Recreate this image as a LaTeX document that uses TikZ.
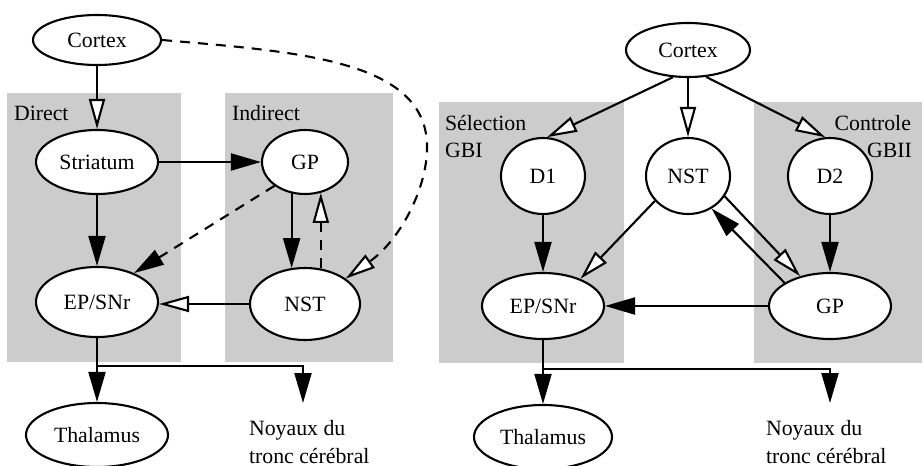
\documentclass[tikz,border=0pt]{standalone}
\usepackage{fontspec}
\setmainfont{Liberation Serif}
\usetikzlibrary{arrows.meta,shapes.geometric}

\begin{document}
\begin{tikzpicture}[x=0.5pt,y=-0.5pt,
  line width=1.05pt,
  every node/.style={font=\fontsize{10.9}{14}\selectfont},
  region/.style={fill=black!20,draw=none},
  nucleus/.style={ellipse,draw,fill=white,inner sep=0pt},
  tag/.style={inner sep=0pt},
  inh/.style={-{Triangle[length=15pt,width=8.5pt]}},
  exc/.style={-{Triangle[length=15pt,width=8pt,fill=white]}},
  dashline/.style={dash pattern=on 5pt off 4pt}]
\useasboundingbox (0,0) rectangle (922,466);
\clip (0,0) rectangle (922,466);

% ---------- left circuit: direct / indirect pathways ----------
\fill[region] (7,93) rectangle (181,362);
\fill[region] (225,93) rectangle (393,362);

\node[nucleus,minimum width=64pt,minimum height=25pt] (cortexL) at (97,40) {Cortex};
\node[nucleus,minimum width=61pt,minimum height=32pt] (striatum) at (97,162) {Striatum};
\node[nucleus,minimum width=43pt,minimum height=32pt] (gpL) at (305,162) {GP};
\node[nucleus,minimum width=61pt,minimum height=35pt] (epL) at (97,302) {EP/SNr};
\node[nucleus,minimum width=55pt,minimum height=36pt] (nstL) at (305,304) {NST};
\node[nucleus,minimum width=71pt,minimum height=32pt] (thalL) at (97,435) {Thalamus};
\node[tag,anchor=base west,align=left] (noyL) at (248,463) {Noyaux du\\tronc cérébral};
\coordinate (splitL) at (97,366);
\coordinate (noyLin) at (303,403);

\node[tag,anchor=west] (lblDirect) at (13,113) {Direct};
\node[tag,anchor=west] (lblIndirect) at (231,113) {Indirect};

\draw[exc] (cortexL) -- (striatum);
\draw[inh] (striatum) -- (gpL);
\draw[inh] (striatum) -- (epL);
\draw[inh,dashline] (gpL.-142) -- (epL.38);
\draw[inh] (gpL.-113) -- (gpL.-113 |- nstL.111);
\draw[exc,dashline] (nstL.66) -- (nstL.66 |- gpL.-63);
\draw[exc] (nstL.west) -- (nstL.west -| epL.east);
\draw[exc,dashline] (cortexL.east) .. controls (300,52) and (430,60) .. (427,150)
  .. controls (426,190) and (400,240) .. (nstL.32);
\draw[inh] (epL) -- (thalL);
\draw[inh] (splitL) -| (noyLin);

% ---------- right circuit: selection / control loops ----------
\fill[region] (439,102) rectangle (624,363);
\fill[region] (754,102) rectangle (922,363);

\node[nucleus,minimum width=62pt,minimum height=27pt] (cortexR) at (688,50) {Cortex};
\node[nucleus,minimum width=42pt,minimum height=38pt] (d1) at (543,176) {D1};
\node[nucleus,minimum width=42pt,minimum height=38pt] (nstR) at (688,176) {NST};
\node[nucleus,minimum width=42pt,minimum height=38pt] (d2) at (830,176) {D2};
\node[nucleus,minimum width=61pt,minimum height=33pt] (epR) at (543,306) {EP/SNr};
\node[nucleus,minimum width=61pt,minimum height=33pt] (gpR) at (830,306) {GP};
\node[nucleus,minimum width=69pt,minimum height=32pt] (thalR) at (543,437) {Thalamus};
\node[tag,anchor=base west,align=left] (noyR) at (765,463) {Noyaux du\\tronc cérébral};
\coordinate (splitR) at (543,369);
\coordinate (noyRin) at (830,403);

\node[tag,anchor=west] (lblSel) at (444,123) {Sélection};
\node[tag,anchor=west] (lblGBI) at (444,150) {GBI};
\node[tag,anchor=east] (lblCtl) at (912,123) {Controle};
\node[tag,anchor=east] (lblGBII) at (913,150) {GBII};

\draw[exc] (cortexR.-119) -- (d1.84);
\draw[exc] (cortexR) -- (nstR);
\draw[exc] (cortexR.-56) -- (d2.97);
\draw[inh] (d1) -- (epR);
\draw[inh] (d2) -- (gpR);
\draw[exc] (nstR.-143) -- (epR.36);
\draw[inh] (gpR.153) -- (nstR.-54);
\draw[exc] (nstR.-29) -- (gpR.135);
\draw[inh] (gpR) -- (epR);
\draw[inh] (epR) -- (thalR);
\draw[inh] (splitR) -| (noyRin);
\end{tikzpicture}
\end{document}
